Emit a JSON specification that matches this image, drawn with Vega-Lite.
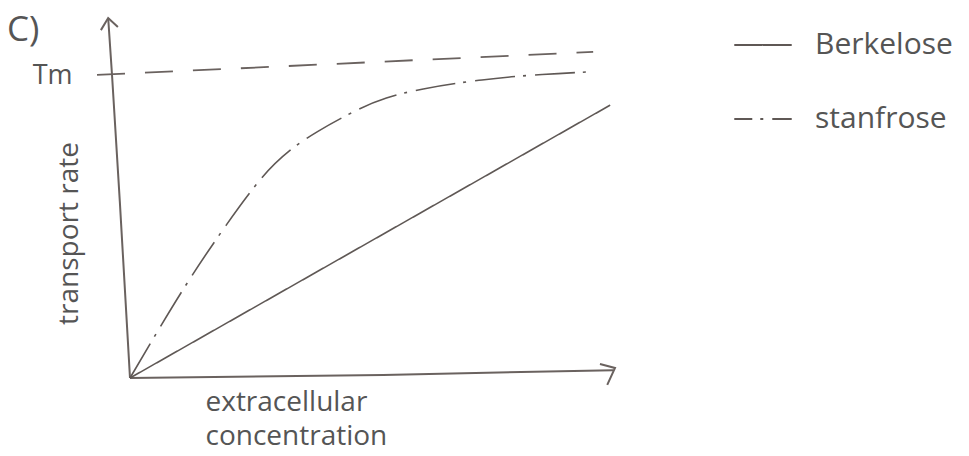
{
  "$schema": "https://vega.github.io/schema/vega-lite/v6.json",
  "width": 485,
  "height": 363,
  "autosize": {"type": "none"},
  "padding": {"left": 130, "top": 15, "right": 354, "bottom": 78},
  "background": "white",
  "config": {
    "view": {"stroke": null},
    "font": "Open Sans"
  },
  "title": {
    "text": "C)",
    "anchor": "start",
    "frame": "group",
    "dx": -123,
    "dy": 38,
    "fontSize": 35,
    "fontWeight": "normal",
    "color": "#555",
    "font": "Open Sans"
  },
  "datasets": {
    "axes": [
      {"part": "yaxis", "i": 1, "x": 0, "y": 0},
      {"part": "yaxis", "i": 2, "x": -0.21, "y": 5.84},
      {"part": "yaxis", "i": 3, "x": -0.37, "y": 10.0},
      {"part": "yaxis", "i": 4, "x": -0.45, "y": 11.9},
      {"part": "yarrow", "i": 1, "x": -0.6, "y": 11.5},
      {"part": "yarrow", "i": 2, "x": -0.45, "y": 11.9},
      {"part": "yarrow", "i": 3, "x": -0.25, "y": 11.6},
      {"part": "xaxis", "i": 1, "x": 0, "y": 0},
      {"part": "xaxis", "i": 2, "x": 5.22, "y": 0.1},
      {"part": "xaxis", "i": 3, "x": 9.96, "y": 0.26},
      {"part": "xarrow", "i": 1, "x": 9.69, "y": 0.46},
      {"part": "xarrow", "i": 2, "x": 10.0, "y": 0.33},
      {"part": "xarrow", "i": 3, "x": 9.84, "y": -0.23}
    ],
    "tm": [
      {"x": -0.68, "y": 10.02},
      {"x": 9.55, "y": 10.78}
    ],
    "curves": [
      {"series": "Berkelose", "x": 0, "y": 0},
      {"series": "Berkelose", "x": 9.9, "y": 9.02},
      {"series": "stanfrose", "x": 0, "y": 0},
      {"series": "stanfrose", "x": 0.62, "y": 1.69},
      {"series": "stanfrose", "x": 1.26, "y": 3.37},
      {"series": "stanfrose", "x": 1.96, "y": 5.02},
      {"series": "stanfrose", "x": 2.76, "y": 6.78},
      {"series": "stanfrose", "x": 3.3, "y": 7.55},
      {"series": "stanfrose", "x": 3.79, "y": 8.1},
      {"series": "stanfrose", "x": 4.74, "y": 8.93},
      {"series": "stanfrose", "x": 5.26, "y": 9.26},
      {"series": "stanfrose", "x": 5.94, "y": 9.55},
      {"series": "stanfrose", "x": 7.26, "y": 9.88},
      {"series": "stanfrose", "x": 8.56, "y": 10.05},
      {"series": "stanfrose", "x": 9.48, "y": 10.12}
    ]
  },
  "layer": [
    {
      "data": {"name": "axes"},
      "mark": {"type": "line", "strokeWidth": 2, "color": "#6a625f"},
      "encoding": {
        "x": {"field": "x", "type": "quantitative", "scale": {"domain": [0, 10], "nice": false, "zero": false}},
        "y": {"field": "y", "type": "quantitative", "scale": {"domain": [0, 12], "nice": false, "zero": false}},
        "detail": {"field": "part"},
        "order": {"field": "i", "type": "quantitative"}
      }
    },
    {
      "data": {"name": "tm"},
      "mark": {"type": "line", "strokeWidth": 1.8, "color": "#6a625f", "strokeDash": [28, 20]},
      "encoding": {
        "x": {"field": "x", "type": "quantitative"},
        "y": {"field": "y", "type": "quantitative"}
      }
    },
    {
      "data": {"name": "curves"},
      "mark": {"type": "line", "strokeWidth": 1.6, "interpolate": "basis"},
      "encoding": {
        "x": {
          "field": "x",
          "type": "quantitative",
          "axis": {
            "values": [],
            "domain": false,
            "ticks": false,
            "labels": false,
            "grid": false,
            "title": ["extracellular", "concentration"],
            "titleFont": "Open Sans",
            "titleFontSize": 28,
            "titleFontWeight": "normal",
            "titleColor": "#555",
            "titleAlign": "left",
            "titleAnchor": "start",
            "titleBaseline": "top",
            "titleX": 75,
            "titleY": 10,
            "titleLineHeight": 34
          }
        },
        "y": {
          "field": "y",
          "type": "quantitative",
          "axis": {
            "values": [10],
            "labelExpr": "'Tm'",
            "domain": false,
            "ticks": false,
            "grid": false,
            "labelPadding": 58,
            "labelFontSize": 27,
            "labelFont": "Open Sans",
            "labelColor": "#555",
            "title": "transport rate",
            "titleFont": "Open Sans",
            "titleFontSize": 28,
            "titleFontWeight": "normal",
            "titleColor": "#555",
            "titleAngle": -90,
            "titleAlign": "center",
            "titleBaseline": "middle",
            "titleX": -61,
            "titleY": 218
          }
        },
        "color": {
          "field": "series",
          "type": "nominal",
          "scale": {"domain": ["Berkelose", "stanfrose"], "range": ["#5f5855", "#5f5855"]},
          "legend": {
            "title": null,
            "orient": "none",
            "legendX": 603,
            "legendY": 0,
            "symbolType": "stroke",
            "symbolSize": 3300,
            "symbolStrokeWidth": 2,
            "symbolDashOffset": 22,
            "labelFontSize": 30,
            "labelFont": "Open Sans",
            "labelColor": "#555",
            "labelOffset": 22,
            "rowPadding": 29
          }
        },
        "strokeDash": {
          "field": "series",
          "type": "nominal",
          "scale": {"domain": ["Berkelose", "stanfrose"], "range": [[1, 0], [40, 8, 3, 9]]},
          "legend": null
        }
      }
    }
  ]
}
